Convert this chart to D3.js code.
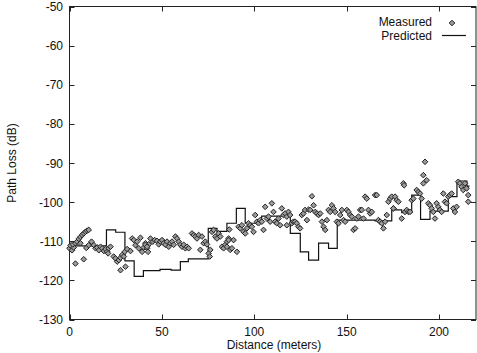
<!DOCTYPE html>
<html>
<head>
<meta charset="utf-8">
<script src="https://cdn.jsdelivr.net/npm/d3@7"></script>
<style>
  body { margin: 0; background: #fff; }
  text { font-family: "Liberation Sans", Arial, sans-serif; }
</style>
</head>
<body>
<svg id="chart" width="477" height="353"></svg>
<script>
// measured points (distance m, path loss dB)
const measuredDist = [
  0.0, 0.5, 1.4, 2.3, 1.8, 3.2, 4.1, 5.0, 5.9, 6.8, 7.7, 8.6, 9.5, 10.4,
  3.2, 7.7,
  5.9, 9.1, 10.4, 11.9, 13.2, 14.1, 15.0, 15.9, 16.8, 17.7, 18.6, 19.5, 20.4, 21.3, 22.2, 20.9,
  23.9, 24.9, 25.8, 26.7, 27.6, 28.5, 29.4, 27.6, 30.3, 29.9, 31.2,
  33.0, 33.9, 34.8, 35.7, 36.6, 37.5, 38.4, 39.3, 40.2, 41.1, 42.0, 42.9,
  41.1, 42.0, 42.5, 43.8, 45.1, 46.1, 47.4, 48.3, 49.2, 50.1, 51.0, 51.9, 52.8, 53.7, 54.6,
  55.5, 56.4, 57.3, 58.2, 59.1, 60.0, 60.9, 61.8, 62.7, 63.6, 64.5, 66.3, 67.2, 68.1, 69.0,
  69.9, 70.8, 71.7, 72.6, 73.5, 74.4, 75.3, 75.9, 76.2, 77.1, 78.0, 78.9, 79.8, 80.7, 81.6,
  82.5, 83.4, 84.3, 85.2, 86.1,
  85.2, 86.1, 87.0, 87.9, 88.8, 90.6, 86.5, 91.5, 92.4, 93.3, 94.2, 95.1, 96.0, 96.9, 97.8,
  98.7, 99.6, 100.5, 101.4, 102.3, 103.2, 104.1, 105.0, 105.9, 106.8, 107.7, 108.6, 109.5,
  110.4, 111.3, 112.2, 113.1, 114.0, 114.9, 115.8, 116.7, 117.6, 117.6, 118.5, 119.4, 120.3,
  121.2, 122.1, 123.0, 123.9, 124.8, 125.7, 126.6, 127.5,
  128.5, 129.4, 130.3, 131.2, 132.1, 133.0, 133.9, 134.8, 135.7, 136.6, 137.5, 138.4, 139.3,
  140.2, 141.1, 142.0, 142.9, 143.8, 144.7, 145.6, 146.5, 147.4, 148.3, 149.2, 150.1, 151.0,
  151.9, 152.8, 153.7, 154.6, 155.5, 156.4, 157.3, 158.2, 159.1, 160.0, 160.9, 161.8, 162.7,
  163.6, 165.4, 166.3, 167.2, 168.1, 169.0, 169.9, 170.8, 171.7, 172.6, 173.5, 174.4, 175.3,
  176.2, 177.1, 178.0, 175.3, 179.8, 181.6, 182.5, 183.4, 184.3, 185.2, 186.1, 187.9, 188.8,
  189.7, 190.6, 191.5, 191.5, 192.4, 193.3, 194.2, 195.1, 196.0, 196.9, 197.8, 198.7, 199.6,
  200.5, 201.4, 202.3, 203.2, 204.1, 205.0, 205.9, 206.8, 207.7, 208.6, 209.5, 210.4, 211.3,
  212.2, 213.1, 214.0, 214.9, 215.8, 215.8, 180.7, 181.1
];
const measuredLoss = [
  -111.8, -111.1, -112.3, -111.6, -110.8, -110.5, -110.1, -109.4, -108.9, -108.4, -108.0, -107.6, -107.3, -107.1,
  -115.7, -114.6,
  -110.5, -111.7, -111.0, -110.1, -111.0, -111.8, -111.6, -112.3, -111.4, -111.8, -112.5, -112.0, -112.7, -111.8, -111.4, -113.1,
  -113.9, -114.4, -115.2, -114.8, -114.2, -113.5, -113.9, -117.4, -116.5, -112.7, -112.0,
  -112.5, -109.3, -109.7, -111.0, -110.1, -111.8, -109.1, -112.7, -111.6, -110.5, -111.8, -110.8,
  -110.9, -111.4, -112.7, -109.3, -110.1, -109.7, -109.9, -110.8, -110.1, -109.7, -110.5, -110.9, -110.1, -111.4, -110.5,
  -110.1, -110.9, -108.8, -109.3, -110.1, -110.9, -111.4, -110.9, -111.8, -111.4, -111.8, -108.0, -108.4, -108.8, -109.3,
  -108.4, -112.2, -108.8, -110.5, -110.1, -110.8, -113.1, -113.9, -112.2, -107.6, -107.1, -108.8, -109.3, -108.0, -108.8,
  -111.4, -111.8, -110.9, -110.1, -109.3,
  -111.4, -109.7, -112.2, -111.8, -109.7, -112.7, -107.0, -106.3, -106.7, -105.9, -107.6, -108.0, -106.7, -105.4, -105.9,
  -106.3, -107.6, -103.3, -105.0, -105.4, -104.6, -105.0, -107.1, -101.2, -104.2, -103.7, -105.0, -100.3,
  -102.5, -105.0, -105.4, -104.2, -105.9, -101.6, -103.3, -102.9, -103.7, -105.9, -102.5, -103.3, -105.4,
  -105.0, -105.0, -105.4, -106.3, -106.7, -103.3, -102.9, -102.0,
  -104.6, -101.9, -102.0, -98.5, -100.8, -102.5, -102.9, -103.3, -102.9, -105.0, -106.3, -107.1, -104.6,
  -102.0, -102.5, -100.8, -101.6, -102.5, -105.0, -105.4, -103.3, -102.0, -104.6, -105.0, -102.0, -102.5,
  -103.3, -103.7, -107.1, -106.7, -104.2, -103.7, -102.0, -102.0, -104.2, -98.6, -99.1, -102.0, -102.9,
  -102.5, -98.2, -98.2, -104.6, -105.0, -105.4, -106.7, -105.0, -103.3, -99.9, -99.1, -98.6, -101.6,
  -98.6, -99.5, -99.9, -101.6, -104.2, -102.5, -102.0, -102.5, -102.5, -99.5, -99.1, -96.9, -97.4,
  -97.8, -99.1, -95.2, -93.1, -89.7, -94.4, -100.3, -100.8, -101.6, -102.5, -104.2, -100.3, -101.2,
  -102.0, -102.5, -97.8, -99.9, -100.3, -98.6, -98.2, -97.8, -101.6, -102.5, -101.2, -94.8, -95.2,
  -96.1, -96.9, -95.2, -96.5, -98.2, -99.9, -95.2, -95.7
];

// predicted model: step starts (m) and level (dB)
const predDist = [0, 3, 20, 25, 30, 35, 40, 49, 55, 60, 64.3, 75.1, 79.8, 85.2, 90.3, 95.1, 104,
  119.5, 124.9, 129.4, 134.8, 140.2, 144.9, 165.4, 174.4, 179.8, 185.2, 190, 195.1, 205, 209.7, 215.1, 216.5];
const predLoss = [-111.8, -111.2, -107.1, -107.7, -115.0, -119.0, -117.5, -117.2, -117.4, -115.2, -114.5,
  -106.7, -107.5, -105.4, -101.6, -105.4, -103.6, -108.0, -112.7, -114.8, -110.5, -111.8, -104.6, -104.8,
  -102.0, -102.7, -98.2, -104.4, -102.3, -98.6, -94.6, -95.9, -95.9];

const xTicks = [0, 50, 100, 150, 200];
const yTicks = [-50, -60, -70, -80, -90, -100, -110, -120, -130];

const svg = d3.select("#chart");
const plotLeft = 69.5, plotRight = 476, plotTop = 6.5, plotBottom = 319.5;

const x = d3.scaleLinear().domain([0, 220]).range([plotLeft, plotRight]);
const y = d3.scaleLinear().domain([-130, -50]).range([plotBottom, plotTop]);

// frame
svg.append("rect")
  .attr("x", plotLeft).attr("y", plotTop)
  .attr("width", plotRight - plotLeft).attr("height", plotBottom - plotTop)
  .attr("fill", "none").attr("stroke", "#222").attr("stroke-width", 1);

// inward ticks on all four sides (gnuplot style)
const tickLen = 5;
const tickG = svg.append("g").attr("stroke", "#222").attr("stroke-width", 1);
xTicks.forEach(t => {
  const px = Math.round(x(t)) + 0.5;
  tickG.append("line").attr("x1", px).attr("x2", px).attr("y1", plotBottom).attr("y2", plotBottom - tickLen);
  tickG.append("line").attr("x1", px).attr("x2", px).attr("y1", plotTop).attr("y2", plotTop + tickLen);
});
yTicks.forEach(t => {
  const py = Math.round(y(t)) + 0.5;
  tickG.append("line").attr("x1", plotLeft).attr("x2", plotLeft + tickLen).attr("y1", py).attr("y2", py);
  tickG.append("line").attr("x1", plotRight).attr("x2", plotRight - tickLen).attr("y1", py).attr("y2", py);
});

svg.append("g").selectAll("text")
  .data(xTicks).enter().append("text")
  .attr("x", d => x(d)).attr("y", 336)
  .attr("text-anchor", "middle")
  .attr("font-size", "12px").attr("fill", "#111")
  .text(d => d);

svg.append("g").selectAll("text")
  .data(yTicks).enter().append("text")
  .attr("x", 63).attr("y", d => y(d) + 4.5)
  .attr("text-anchor", "end")
  .attr("font-size", "12px").attr("fill", "#111")
  .text(d => d);

// axis titles
svg.append("text")
  .attr("x", 274).attr("y", 349)
  .attr("text-anchor", "middle").attr("font-size", "12px").attr("fill", "#111")
  .text("Distance (meters)");
svg.append("text")
  .attr("transform", `translate(16, ${(plotTop + plotBottom) / 2}) rotate(-90)`)
  .attr("text-anchor", "middle").attr("font-size", "12px").attr("fill", "#111")
  .text("Path Loss (dB)");

// predicted step line
const predData = predDist.map((d, i) => [d, predLoss[i]]);
svg.append("path")
  .datum(predData)
  .attr("d", d3.line().x(d => x(d[0])).y(d => y(d[1])).curve(d3.curveStepAfter))
  .attr("fill", "none").attr("stroke", "#111").attr("stroke-width", 1.2);

// measured diamonds
const diamond = "M0,-2.8L2.8,0L0,2.8L-2.8,0Z";
const measData = measuredDist.map((d, i) => [d, measuredLoss[i]]);
svg.append("g").selectAll("path")
  .data(measData).enter().append("path")
  .attr("d", diamond)
  .attr("transform", d => `translate(${x(d[0])},${y(d[1])})`)
  .attr("fill", "#9a9a9a").attr("stroke", "#222").attr("stroke-width", 1);

// legend
svg.append("text").attr("x", 432).attr("y", 26)
  .attr("text-anchor", "end").attr("font-size", "12px").attr("fill", "#111").text("Measured");
svg.append("path").attr("d", diamond).attr("transform", "translate(452,23)")
  .attr("fill", "#9a9a9a").attr("stroke", "#222").attr("stroke-width", 1);
svg.append("text").attr("x", 432).attr("y", 39.5)
  .attr("text-anchor", "end").attr("font-size", "12px").attr("fill", "#111").text("Predicted");
svg.append("line").attr("x1", 442).attr("x2", 466).attr("y1", 35.5).attr("y2", 35.5)
  .attr("stroke", "#111").attr("stroke-width", 1.2);
</script>
</body>
</html>
